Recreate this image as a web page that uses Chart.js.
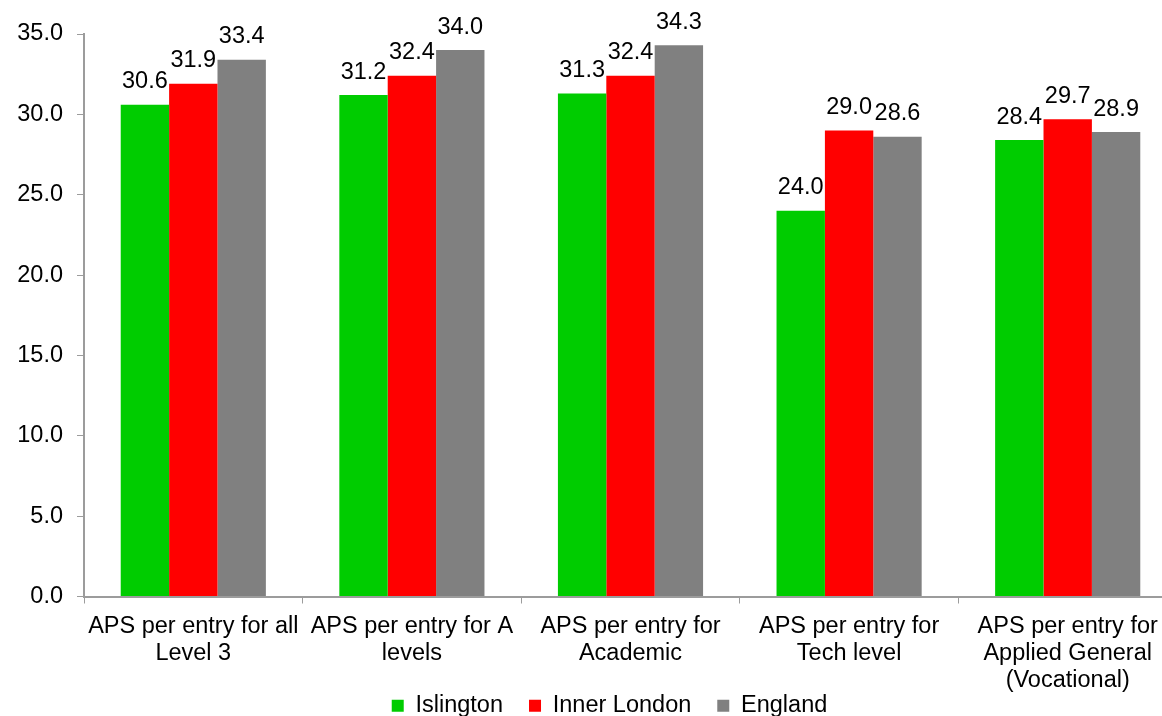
<!DOCTYPE html>
<html>
<head>
<meta charset="utf-8">
<script src="https://cdn.jsdelivr.net/npm/chart.js@4/dist/chart.umd.min.js"></script>
<style>
  html, body { margin: 0; padding: 0; background: #fff; overflow: hidden; }
  #wrap { position: absolute; left: 0; top: 0; width: 1180px; height: 756px; }
</style>
</head>
<body>
<div id="wrap"><canvas id="c" width="1180" height="756"></canvas></div>
<script>
// Average point score per entry, by qualification type
const categories = [
  ["APS per entry for all", "Level 3"],
  ["APS per entry for A", "levels"],
  ["APS per entry for", "Academic"],
  ["APS per entry for", "Tech level"],
  ["APS per entry for", "Applied General", "(Vocational)"]
];
const seriesNames = ["Islington", "Inner London", "England"];
const islington   = [30.6, 31.2, 31.3, 24.0, 28.4];
const innerLondon = [31.9, 32.4, 32.4, 29.0, 29.7];
const england     = [33.4, 34.0, 34.3, 28.6, 28.9];
const seriesColors = ["#00CC00", "#FF0000", "#808080"];
const yMin = 0, yMax = 35, yStep = 5;

const FONT = '"Liberation Sans", Arial, sans-serif';
const FONT_SIZE = 23.5;
const AXIS_COLOR = "#9C9C9C";
const LEGEND_TOP = 668;   // legend tucked up under the category labels
const LEGEND_DX = 21;     // legend sits a little right of centre

Chart.defaults.font.family = FONT;
Chart.defaults.font.size = FONT_SIZE;
Chart.defaults.color = "#000";

// Value labels written above every bar
const valueLabels = {
  id: "valueLabels",
  afterDatasetsDraw(chart) {
    const ctx = chart.ctx;
    ctx.save();
    ctx.font = FONT_SIZE + "px " + FONT;
    ctx.fillStyle = "#000";
    ctx.textAlign = "center";
    ctx.textBaseline = "alphabetic";
    chart.data.datasets.forEach((ds, i) => {
      chart.getDatasetMeta(i).data.forEach((bar, j) => {
        ctx.fillText(ds.data[j].toFixed(1), bar.x, bar.y - 16.5);
      });
    });
    ctx.restore();
  }
};

// Move the legend box after layout so it overlaps the spare space below the axis
const legendPlacement = {
  id: "legendPlacement",
  afterLayout(chart) {
    const lg = chart.legend;
    if (!lg) return;
    const dy = LEGEND_TOP - lg.top;
    lg.top += dy; lg.bottom += dy;
    lg.left += LEGEND_DX; lg.right += LEGEND_DX;
  }
};

const values = [islington, innerLondon, england];

new Chart(document.getElementById("c"), {
  type: "bar",
  data: {
    labels: categories,
    datasets: seriesNames.map((name, i) => ({
      label: name,
      data: values[i],
      backgroundColor: seriesColors[i],
      borderWidth: 0,
      categoryPercentage: 0.664,
      barPercentage: 1.0
    }))
  },
  options: {
    responsive: false,
    animation: false,
    devicePixelRatio: 1,
    layout: { padding: { left: 0, top: 34, right: 3, bottom: 0 } },
    plugins: {
      legend: {
        position: "bottom",
        labels: {
          boxWidth: 12,
          boxHeight: 12,
          padding: 26,
          color: "#000",
          font: { size: FONT_SIZE }
        }
      },
      tooltip: { enabled: false }
    },
    scales: {
      x: {
        grid: {
          display: true,
          drawOnChartArea: false,
          drawTicks: true,
          tickLength: 7,
          color: AXIS_COLOR,
          offset: true
        },
        border: { display: true, color: AXIS_COLOR, width: 2 },
        ticks: {
          padding: 10,
          maxRotation: 0,
          autoSkip: false,
          color: "#000",
          font: { size: FONT_SIZE, lineHeight: 1.14 }
        },
        afterFit(scale) { scale.height = 100; }
      },
      y: {
        min: yMin,
        max: yMax,
        grid: {
          display: true,
          drawOnChartArea: false,
          drawTicks: true,
          tickLength: 7,
          color: AXIS_COLOR
        },
        border: { display: true, color: AXIS_COLOR, width: 2 },
        ticks: {
          stepSize: yStep,
          padding: 14,
          color: "#000",
          font: { size: FONT_SIZE },
          callback: v => Number(v).toFixed(1)
        },
        afterFit(scale) { scale.width = 84; }
      }
    }
  },
  plugins: [valueLabels, legendPlacement]
});
</script>
</body>
</html>
